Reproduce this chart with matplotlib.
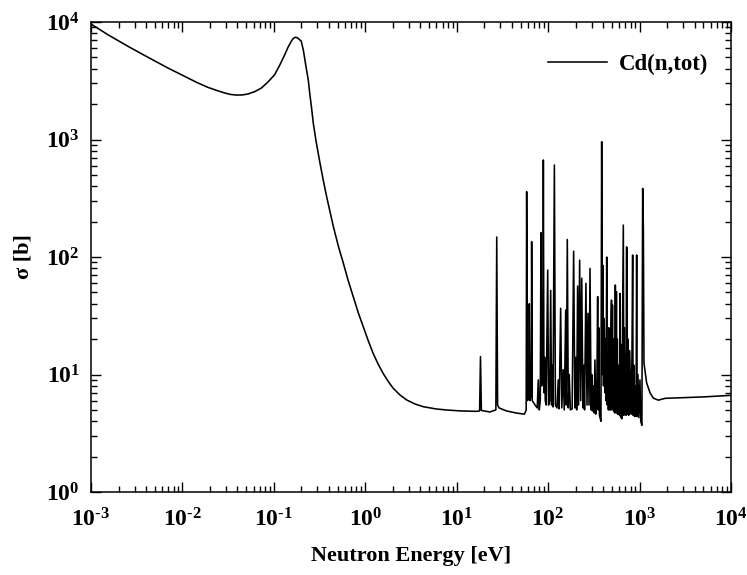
import matplotlib
matplotlib.use("Agg")
import matplotlib.pyplot as plt
from matplotlib.ticker import LogLocator, NullFormatter, FuncFormatter, FixedLocator
import numpy as np

plt.rcParams['font.family'] = ['Liberation Serif', 'DejaVu Serif']
plt.rcParams['font.weight'] = 'bold'
plt.rcParams['mathtext.fontset'] = 'custom'
plt.rcParams['mathtext.rm'] = 'Liberation Serif:bold'
plt.rcParams['mathtext.bf'] = 'Liberation Serif:bold'
plt.rcParams['mathtext.it'] = 'Liberation Serif:bold'

# Axis decades shown
x_decades = [1e-3, 1e-2, 1e-1, 1e0, 1e1, 1e2, 1e3, 1e4]
y_decades = [1e0, 1e1, 1e2, 1e3, 1e4]

# Thermal / 1/v region and the 0.178 eV resonance (energy in eV, sigma in b)
thermal_energy = [1.0e-3, 1.53e-3, 2.54e-3, 4.2e-3, 6.95e-3, 0.0115, 0.0145, 0.019, 0.024,
                  0.029, 0.0335, 0.0388, 0.045, 0.0521, 0.062, 0.0729, 0.086, 0.102, 0.116,
                  0.1315, 0.143, 0.155, 0.163, 0.172, 0.182, 0.1996, 0.21, 0.226, 0.238,
                  0.248, 0.257, 0.270, 0.29, 0.320, 0.345, 0.378, 0.448, 0.51, 0.576,
                  0.65, 0.74, 0.84, 0.951, 1.08, 1.22, 1.38, 1.57, 1.8, 2.02, 2.4,
                  2.84, 3.5, 4.32, 6.0, 7.77, 11.0, 16.5]
thermal_sigma = [9620, 7800, 6210, 5010, 4060, 3340, 3050, 2780, 2610,
                 2490, 2420, 2390, 2395, 2440, 2560, 2740, 3080, 3560, 4300,
                 5270, 6100, 6860, 7250, 7420, 7330, 6860, 5780, 4060, 3210,
                 2400, 1930, 1375, 960, 627, 461, 326, 181, 122, 88.4,
                 63.1, 45.9, 33.4, 25.5, 19.3, 15.1, 12.3, 10.2, 8.63, 7.64, 6.69,
                 6.07, 5.61, 5.32, 5.09, 4.99, 4.9, 4.86]

# Resolved resonance region
res_energy = [17.8, 18.2, 18.6, 23, 26.8, 27.4, 28.0, 29, 35, 45, 55, 57.5, 58.2, 59.5,
              61.5, 62.2, 63.5, 65.5, 66, 67, 72, 76, 78, 80, 82, 83.5, 85, 86.5, 87.5, 88.6,
              90, 91.5, 93, 95, 98.9, 101, 104, 106.6, 109, 111, 113, 117, 120, 125, 129, 132,
              137, 141, 146, 150, 155.6, 158, 162, 166, 170, 175, 183, 190, 196, 200, 205, 210, 215,
              221, 227, 233, 240, 245, 250, 259, 266, 273, 280, 287, 295, 300, 305, 312, 318,
              325, 332, 340, 348, 352, 358, 364, 372, 378, 385, 392, 397, 403, 410,
              418, 424, 430, 437, 443, 450, 456, 462, 468, 474, 480, 487, 493, 497,
              505, 512, 520, 526, 532, 537, 543, 550, 558, 564, 571, 577, 584, 590,
              597, 604, 611, 618, 626, 633, 640, 664, 672, 681, 690, 700, 710, 722, 726, 730,
              736, 748, 760, 775, 790, 810, 825, 840, 850, 865, 880, 900, 915, 929, 940, 960,
              980, 1010, 1030, 1060, 1081, 1100, 1117]
res_sigma = [4.9, 14.2, 4.95, 4.8, 5.0, 148, 5.5, 5.2, 4.9, 4.7, 4.6, 5.0, 360, 6,
             6.5, 40, 6, 7, 135, 6, 5.5, 5.2, 9, 5.0, 6, 161, 8, 12, 10, 670,
             7, 14, 6, 5.5, 77.5, 5.5, 6, 52, 5.5, 12, 5.3, 607, 5.5, 5.2, 9, 5.1,
             36.6, 5.2, 11, 5.0, 35.4, 5.5, 141, 5.2, 10, 5.0, 5.1, 112, 5.2, 14, 5.0, 56.6, 5.5,
             94, 6, 66, 5.2, 12, 5.0, 59.7, 5.5, 33.2, 5.5, 80, 5.0, 10, 4.9, 8, 4.7,
             13.3, 4.6, 6, 46, 5, 25, 4.5, 4.2, 4.0, 958, 10, 85, 8, 30,
             7, 20, 6, 100, 5.5, 15, 5, 25, 5, 12, 5, 25, 43, 5,
             39, 5, 20, 4.8, 15, 4.7, 57.8, 4.8, 50.7, 4.7, 20, 4.6, 12, 4.6,
             8, 4.5, 49, 4.4, 4.3, 18, 4.2, 187, 4.5, 25, 5, 15, 4.5, 122, 5, 118,
             4.6, 20, 4.5, 16, 10, 4.6, 14, 104, 4.5, 12, 4.4, 8, 4.4, 104, 4.4, 10,
             4.3, 9, 4.0, 3.7, 384, 175, 12.5]

# Above the resolved region
high_energy = [1194, 1300, 1413, 1603, 1897, 3000, 5000, 10000]
high_sigma = [8.5, 7.0, 6.3, 6.05, 6.27, 6.35, 6.45, 6.65]

energy = thermal_energy + res_energy + high_energy
sigma = thermal_sigma + res_sigma + high_sigma

fig = plt.figure(figsize=(7.47, 5.75), dpi=100)
ax = fig.add_axes([0.1218, 0.1443, 0.8568, 0.8174])
ax.plot(energy, sigma, color='black', lw=1.15, label='Cd(n,tot)')
ax.set_xscale('log')
ax.set_yscale('log')
ax.set_xlim(x_decades[0], x_decades[-1])
ax.set_ylim(y_decades[0], y_decades[-1])

def pow_fmt(v, pos):
    e = int(round(np.log10(v)))
    s = str(e).replace('-', r'\text{-}')
    return r'$\mathdefault{10^{%s}}$' % s

ax.xaxis.set_major_locator(FixedLocator(x_decades))
ax.yaxis.set_major_locator(FixedLocator(y_decades))
ax.xaxis.set_minor_locator(LogLocator(base=10, subs=range(2, 10), numticks=20))
ax.yaxis.set_minor_locator(LogLocator(base=10, subs=range(2, 10), numticks=20))
ax.xaxis.set_major_formatter(FuncFormatter(pow_fmt))
ax.yaxis.set_major_formatter(FuncFormatter(pow_fmt))
ax.xaxis.set_minor_formatter(NullFormatter())
ax.yaxis.set_minor_formatter(NullFormatter())

ax.tick_params(which='both', direction='in', top=True, right=True, labelsize=17, width=1.0)
ax.tick_params(which='major', length=7)
ax.tick_params(which='minor', length=4.3)
ax.tick_params(axis='x', pad=12)
ax.tick_params(axis='y', pad=8)
for s in ax.spines.values():
    s.set_linewidth(1.1)

ax.set_xlabel('Neutron Energy [eV]', fontsize=16, fontweight='bold', labelpad=10)
ax.set_ylabel('σ [b]', fontsize=16, fontweight='bold', labelpad=9)

leg = ax.legend(loc='upper right', bbox_to_anchor=(1.0, 0.981), frameon=False,
                fontsize=16.5, handlelength=2.6, handletextpad=0.5, borderaxespad=0.6)

fig.savefig('out.png', dpi=100)
